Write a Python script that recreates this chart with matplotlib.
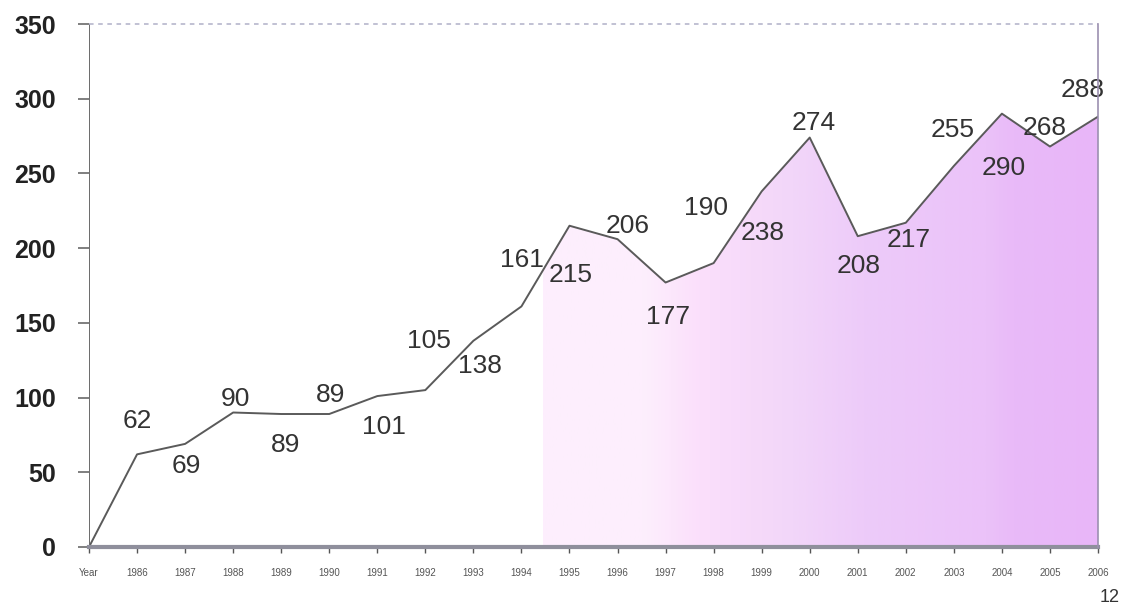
import numpy as np
import matplotlib
matplotlib.use("Agg")
import matplotlib.pyplot as plt
from matplotlib.colors import LinearSegmentedColormap

plt.rcParams['font.family'] = ['Liberation Sans', 'DejaVu Sans']

# Data
categories = ["Year", "1986", "1987", "1988", "1989", "1990", "1991", "1992", "1993",
              "1994", "1995", "1996", "1997", "1998", "1999", "2000", "2001", "2002",
              "2003", "2004", "2005", "2006"]
values = [0, 62, 69, 90, 89, 89, 101, 105, 138, 161, 215, 206, 177, 190, 238,
          274, 208, 217, 255, 290, 268, 288]
y_ticks = [0, 50, 100, 150, 200, 250, 300, 350]

# Label offsets from each point, in pixels (dx, dy; positive dy = up)
label_offsets = [None, (0, 33), (1, -22), (2, 14), (4, -31), (1, 19), (7, -31),
                 (4, 49), (7, -25), (1, 46), (1, -49), (10, 13), (2, -34),
                 (-8, 55), (1, -42), (4, 15), (1, -30), (3, -17), (-1, 36),
                 (2, -54), (-5, 19), (-15, 27)]

fig = plt.figure(figsize=(11.27, 6.05), dpi=100)
ax = fig.add_axes([89 / 1127, 1 - 547 / 605, (1098 - 89) / 1127, (547 - 24) / 605])

x = np.arange(len(categories))
ax.set_xlim(0, len(categories) - 1)
ax.set_ylim(0, 350)

# Gradient fill under the curve, starting mid-way through the series
poly = ax.fill_between(x, values, 0, color='none', lw=0)
cmap = LinearSegmentedColormap.from_list(
    "mauve",
    [(0.0, "#fdeefd"), (0.18, "#fdeffd"), (0.28, "#fbdffb"), (0.45, "#f2d6f9"),
     (0.58, "#edcbf9"), (0.80, "#ebc2f9"), (0.85, "#e9baf8"), (1.0, "#e8b6f8")])
grad = np.linspace(0, 1, 400).reshape(1, -1)
x_start = 9.45
img = ax.imshow(grad, cmap=cmap, extent=(x_start, len(categories) - 1, 0, 350),
                aspect='auto', origin='lower', zorder=1, interpolation='bilinear')
img.set_clip_path(poly.get_paths()[0], transform=ax.transData)

# Line
ax.plot(x, values, color='#5a5a5a', lw=1.4, zorder=3)

# Value labels
px = 72 / fig.dpi
for xi, v, off in zip(x, values, label_offsets):
    if off is None:
        continue
    ax.annotate(str(v), (xi, v), xytext=(off[0] * px, off[1] * px),
                textcoords='offset points', ha='center', va='center',
                fontsize=19, color='#333333', zorder=4)

# Axes styling
for s in ['top', 'right', 'left', 'bottom']:
    ax.spines[s].set_visible(False)
ax.axvline(0, color='#6a6a6a', lw=1.4, zorder=5)
ax.axhline(0, color='#8f8f9c', lw=3, zorder=5, clip_on=False)
ax.plot([0, len(categories) - 1], [350, 350], color='#b0b0c8', lw=1.1,
        ls=(0, (3, 3)), zorder=5, clip_on=False)
ax.plot([len(categories) - 1] * 2, [0, 350], color='#9c90b0', lw=1.2, zorder=5,
        clip_on=False)

ax.set_yticks(y_ticks)
ax.set_yticklabels([str(t) for t in y_ticks], fontsize=18, fontweight='bold',
                   color='#222222')
ax.tick_params(axis='y', length=8, width=1.2, color='#6a6a6a', pad=16)
ax.set_xticks(x)
ax.set_xticklabels(categories, fontsize=7, color='#555555')
ax.tick_params(axis='x', length=4, width=1, color='#555555', pad=11)
ax.set_facecolor('white')

fig.text(1120 / 1127, 1 - 597 / 605, "12", fontsize=13, color='#333333',
         ha='right', va='center')

fig.savefig("out.png", dpi=100)
